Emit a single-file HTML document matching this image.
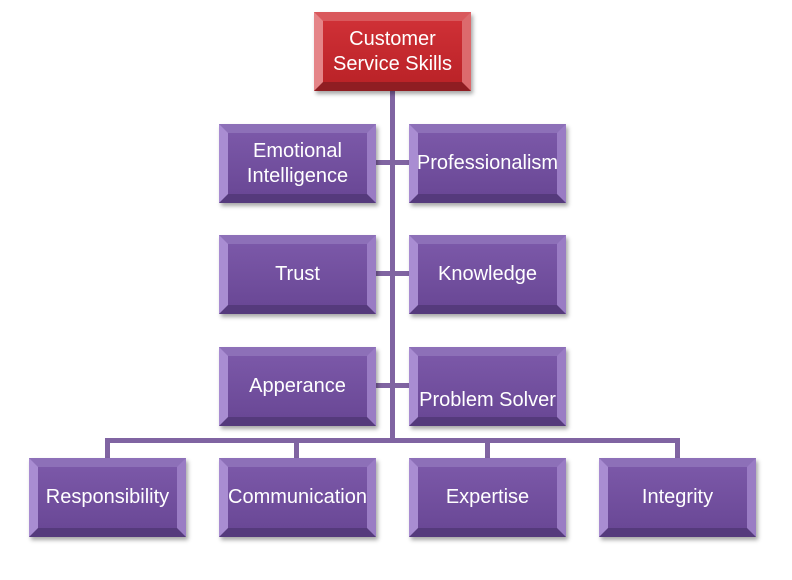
<!DOCTYPE html>
<html><head><style>
body{margin:0;width:792px;height:580px;background:#fff;position:relative;overflow:hidden;font-family:"Liberation Sans",sans-serif}
.b{position:absolute;box-sizing:border-box;width:157px;height:79px;border:9px solid;border-color:#8d70b8 #9a7cc4 #553a7c #a98dd2;background:linear-gradient(#7b58a8,#6a4896);color:#fff;font-size:20px;display:flex;align-items:center;justify-content:center;text-align:center;line-height:25px;box-shadow:2px 3px 4px rgba(0,0,0,.35);white-space:nowrap}
.r{border-color:#d9585c #dc6a6d #8f1d22 #e58588;background:linear-gradient(#cf3036,#bb2328)}
.l{position:absolute;background:#8064a2}
</style></head><body>
<div class="l" style="left:390px;top:88px;width:5px;height:355px"></div>
<div class="l" style="left:105px;top:438px;width:575px;height:5px"></div>
<div class="l" style="left:105px;top:438px;width:5px;height:22px"></div>
<div class="l" style="left:294px;top:438px;width:5px;height:22px"></div>
<div class="l" style="left:485px;top:438px;width:5px;height:22px"></div>
<div class="l" style="left:675px;top:438px;width:5px;height:22px"></div>
<div class="l" style="left:373px;top:160px;width:38px;height:5px"></div>
<div class="l" style="left:373px;top:271px;width:38px;height:5px"></div>
<div class="l" style="left:373px;top:383px;width:38px;height:5px"></div>
<div class="b r" style="left:314px;top:12px">Customer<br>Service Skills</div>
<div class="b" style="left:219px;top:124px">Emotional<br>Intelligence</div>
<div class="b" style="left:409px;top:124px">Professionalism</div>
<div class="b" style="left:219px;top:235px">Trust</div>
<div class="b" style="left:409px;top:235px">Knowledge</div>
<div class="b" style="left:219px;top:347px">Apperance</div>
<div class="b" style="left:409px;top:347px;align-items:flex-end;padding-bottom:4px">Problem Solver</div>
<div class="b" style="left:29px;top:458px">Responsibility</div>
<div class="b" style="left:219px;top:458px">Communication</div>
<div class="b" style="left:409px;top:458px">Expertise</div>
<div class="b" style="left:599px;top:458px">Integrity</div>
</body></html>
